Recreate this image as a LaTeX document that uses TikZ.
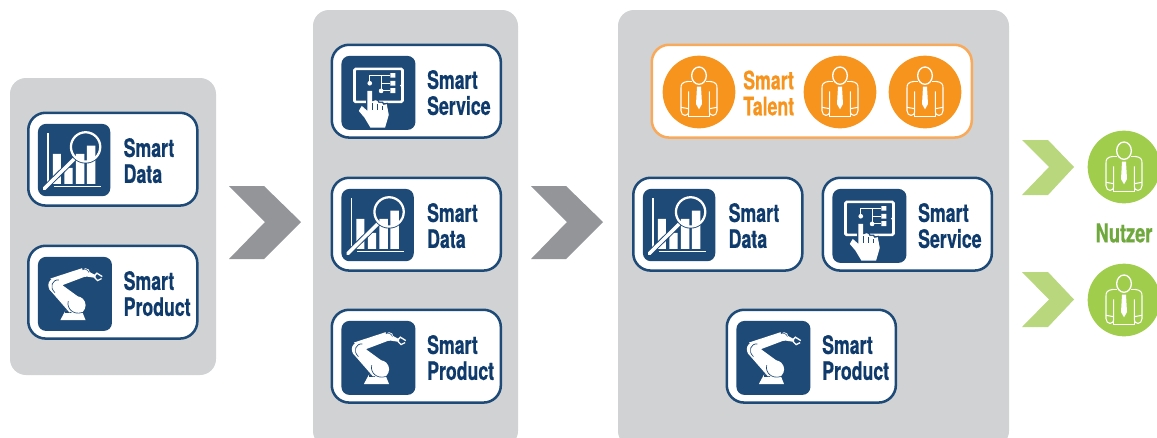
\documentclass[tikz,border=0pt]{standalone}
\usepackage{fontspec}
\setmainfont{TeX Gyre Heros}
\newfontfamily\condfont[UprightFont={* Bold},FakeStretch=0.70,FakeBold=0.6]{TeX Gyre Heros}
\definecolor{navy}{HTML}{1E4A78}
\definecolor{navytxt}{HTML}{0F3B6C}
\definecolor{panelgrey}{HTML}{D0D2D3}
\definecolor{chevgrey}{HTML}{939598}
\definecolor{orangefill}{HTML}{F7941E}
\definecolor{orangeline}{HTML}{F9A95A}
\definecolor{greenfill}{HTML}{A1CD4D}
\definecolor{greenchev}{HTML}{B9D77D}
\definecolor{greentxt}{HTML}{6FA83C}
\tikzset{
  x=0.75pt,y=-0.75pt,
  panel/.style={fill=panelgrey,rounded corners=12pt,draw=none},
  card/.style={draw=navy,fill=white,line width=1.9pt,rounded corners=13pt,minimum width=126.8pt,minimum height=69.6pt,anchor=north west,inner sep=0pt},
  talentcard/.style={card,draw=orangeline,minimum width=240pt},
  label/.style={anchor=west,align=left,inner sep=0pt,font=\condfont\fontsize{19}{19.5}\selectfont,text=navytxt},
  iconbox/.style={fill=navy,rounded corners=6pt},
  chevgrey/.style={fill=chevgrey},
  chevgreen/.style={fill=greenchev},
  wl/.style={draw=white,line width=0.8pt},
  pics/person/.style={code={
    \begin{scope}[x=0.25pt,y=-0.25pt]
    \fill[#1] (0,0) circle (109);
    \draw[wl,line join=round] (-32,-32) .. controls (-52,-30) and (-54,-22) .. (-54,-12) -- (-54,56) .. controls (-54,74) and (-30,76) .. (-31,56) -- (-31,-2);
    \draw[wl,line join=round] (32,-32) .. controls (52,-30) and (54,-22) .. (54,-12) -- (54,56) .. controls (54,74) and (30,76) .. (31,56) -- (31,-2);
    \draw[wl] (-32,-32) -- (-20,-32) (32,-32) -- (20,-32) (-31,74) -- (31,74) (-31,56) -- (-31,74) (31,56) -- (31,74);
    \draw[wl] (-54,46) -- (-31,50) (54,46) -- (31,50);
    \fill[white] (-6,-16) -- (6,-16) -- (9,36) -- (0,52) -- (-9,36) -- cycle;
    \draw[white,line width=1pt,fill=#1] (0,-49) ellipse (22 and 26);
    \end{scope}}},
  pics/dataicon/.style={code={
    \begin{scope}[x=0.25pt,y=-0.25pt,shift={(-3,-3)}]
    \fill[iconbox] (3,3) rectangle (220,220);
    \fill[white] (31,30) rectangle (35,192);
    \fill[white] (50,188) rectangle (192,191);
    \fill[white] (48,93) rectangle (72,183) (82,135) rectangle (107,183) (117,93) rectangle (142,183) (150,68) rectangle (175,183);
    \draw[navy,line width=4pt] (115,105) -- (22,197);
    \draw[white,line width=2.6pt,line cap=round] (115,105) -- (22,197);
    \fill[navy] (146,72) circle (50);
    \begin{scope}\clip (146,72) circle (44);
      \fill[white] (117,93) rectangle (142,183) (150,68) rectangle (175,183);
    \end{scope}
    \draw[white,line width=1.7pt] (146,72) circle (44);
    \end{scope}}},
  pics/roboticon/.style={code={
    \begin{scope}[x=0.25pt,y=-0.25pt,shift={(-3,-3)}]
    \fill[iconbox] (3,3) rectangle (225,225);
    \fill[white] (70,193) -- (85,165) -- (135,165) -- (146,193) -- cycle;
    \fill[navy] (85,165) rectangle (140,172);
    \fill[white] (74,86) -- (140,134) -- (98,170) -- (37,100) -- cycle;
    \fill[white] (119,148) circle (27);
    \fill[white] (40,68) -- (135,37) -- (150,60) -- (76,88) -- cycle;
    \fill[white] (56,88) circle (22);
    \fill[white] (146,50) circle (13);
    \fill[white] (150,44) -- (176,58) -- (176,66) -- (150,62) -- cycle;
    \draw[white,line width=1pt] (172,60) -- (180,52) -- (196,62) (172,64) -- (182,74) -- (194,68);
    \draw[navy,line width=0.5pt] (66,72) .. controls (46,70) and (36,94) .. (54,110);
    \draw[navy,line width=0.5pt] (94,136) .. controls (88,158) and (110,178) .. (135,170);
    \draw[navy,line width=0.4pt] (136,42) .. controls (142,36) and (154,42) .. (156,50);
    \end{scope}}},
  pics/serviceicon/.style={code={
    \begin{scope}[x=0.25pt,y=-0.25pt,shift={(-3,-3)}]
    \fill[iconbox] (3,3) rectangle (225,225);
    \draw[white,line width=2pt,rounded corners=1pt] (42,42) rectangle (186,141);
    \draw[white,line width=0.8pt] (88,85) -- (88,62) -- (150,62) (122,62) -- (122,108) -- (150,108) (122,85) -- (150,85);
    \fill[white] (150,55) rectangle (165,68) (150,78) rectangle (165,92) (150,100) rectangle (165,115);
    \fill[white] (88,85) circle (7) (122,108) circle (7);
    \fill[white] (182,92) circle (3.5);
    \path[preaction={draw=navy,line width=2pt},fill=white,line join=round] (81,108) -- (95,108) -- (95,140) -- (105,136) -- (111,138) -- (114,144) -- (125,144) -- (128,150) -- (139,148) -- (145,180) -- (134,218) -- (90,218) -- (72,188) -- (55,168) -- (64,153) -- (81,168) -- cycle;
    \draw[navy,line width=0.5pt] (97,145) -- (97,165) (112,148) -- (112,165) (127,154) -- (127,165);
    \end{scope}}},
}
\newcommand{\smartcard}[6]{%
  \node[card] (#1) at (#2,#3) {};
  \pic at ([xshift=8.2pt,yshift=-9.3pt]#1.north west) {#4};
  \node[label] (#1txt) at ([xshift=72.3pt,yshift=-1.1pt]#1.west) {Smart\\#5};
}
\begin{document}
\begin{tikzpicture}
\useasboundingbox[fill=white] (0,0) rectangle (1157,437);
\begin{scope}
\clip (0,0) rectangle (1157,437);
\fill[panel] (10,78) rectangle (216,375);
\fill[panel] (313,10) rectangle (518,447);
\fill[panel] (618,10) rectangle (1009,447);
\end{scope}
% chevrons
\fill[chevgrey] (229,186) -- (264,186) -- (301,222) -- (264,259) -- (229,259) -- (265,222) -- cycle;
\fill[chevgrey] (531,186) -- (566,186) -- (603,222) -- (566,259) -- (531,259) -- (567,222) -- cycle;
\fill[chevgreen] (1022,140) -- (1048,140) -- (1074,167) -- (1048,195) -- (1022,195) -- (1049,167) -- cycle;
\fill[chevgreen] (1022,272) -- (1048,272) -- (1074,299.5) -- (1048,327) -- (1022,327) -- (1049,299.5) -- cycle;
% panel 1
\smartcard{aData}{27}{111.5}{dataicon}{Data}{}
\smartcard{aProd}{27}{244.5}{roboticon}{Product}{}
% panel 2
\smartcard{bServ}{330.5}{43.5}{serviceicon}{Service}{}
\smartcard{bData}{330.5}{176.5}{dataicon}{Data}{}
\smartcard{bProd}{330.5}{308.5}{roboticon}{Product}{}
% panel 3
\node[talentcard] (talent) at (650.5,43.5) {};
\pic at (699,92) {person=orangefill};
\pic at (840,92) {person=orangefill};
\pic at (925,92) {person=orangefill};
\node[label,text=orangefill] (talenttxt) at (743,93) {Smart\\Talent};
\smartcard{cData}{632}{176.5}{dataicon}{Data}{}
\smartcard{cServ}{821.5}{176.5}{serviceicon}{Service}{}
\smartcard{cProd}{725.5}{308.5}{roboticon}{Product}{}
% users
\pic at (1124,167) {person=greenfill};
\pic at (1124,300) {person=greenfill};
\node[label,anchor=center,text=greentxt,font=\condfont\fontsize{19.5}{19.5}\selectfont] (nutzer) at (1124,233) {Nutzer};
\end{tikzpicture}
\end{document}
